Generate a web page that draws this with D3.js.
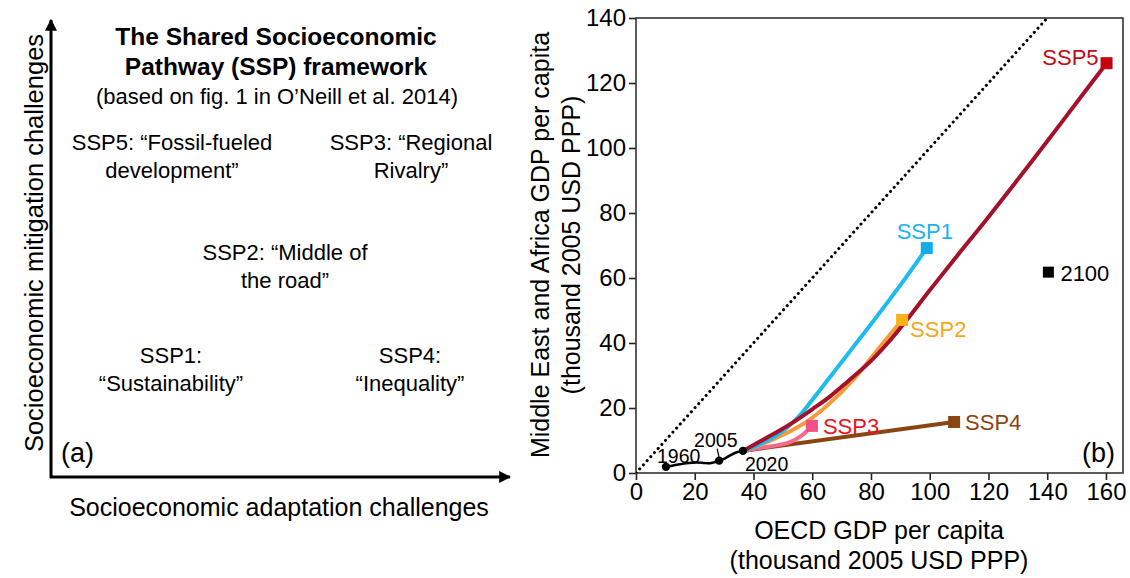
<!DOCTYPE html>
<html>
<head>
<meta charset="utf-8">
<script src="https://cdn.jsdelivr.net/npm/d3@7"></script>
<style>
  html, body { margin: 0; padding: 0; background: #fff; }
  svg { display: block; font-family: "Liberation Sans", Arial, sans-serif; }
</style>
</head>
<body>
<svg id="chart" width="1130" height="578"></svg>
<script>
// ---- Panel (b) data: [OECD GDP per capita, MEA GDP per capita] (thousand 2005 USD PPP)
const historical = [[10.2, 1.9], [13, 2.4], [15.0, 2.7], [18, 3.1], [20.7, 3.2], [23, 3.1], [25.2, 3.0], [28.3, 3.8], [30.5, 4.6], [32.0, 5.4], [34.3, 6.4], [36.4, 6.8]];
const histLabels = [{ year: "1960", x: 10.2, y: 1.9 }, { year: "2005", x: 28.3, y: 3.8 }, { year: "2020", x: 36.4, y: 6.8 }];

const ssp1 = [[36.4, 6.8], [42, 8.8], [48, 11.7], [52, 14.4], [56, 18.0], [62, 24.8], [68, 31.8], [74, 38.8], [80, 45.8], [90, 57.8], [99.0, 69.2]];
const ssp2 = [[36.4, 6.8], [43, 8.9], [49, 11.3], [55, 14.1], [60, 17.0], [66, 21.5], [74, 28.7], [82, 37.6], [90.6, 47.1]];
const ssp3 = [[36.4, 6.8], [42.0, 7.7], [48.0, 8.5], [52.4, 9.5], [56.4, 11.5], [59.9, 14.5]];
const ssp4 = [[36.4, 6.8], [108.3, 15.7]];
const ssp5 = [[36.4, 6.8], [42, 9.6], [48, 12.6], [54, 15.9], [60, 19.6], [66, 23.5], [72, 28.1], [80, 34.5], [86, 40.3], [92, 46.9], [100, 56.2], [108.6, 66.0], [120, 78.8], [134, 95.0], [146, 109.2], [160.2, 126.1]];

const scenarios = [
  { name: "SSP4", data: ssp4, line: "#8b4513", marker: "#8b4513", label: "#8b4513", pos: "right" },
  { name: "SSP3", data: ssp3, line: "#f46a8c", marker: "#f2508a", label: "#ee1122", pos: "right" },
  { name: "SSP2", data: ssp2, line: "#f99a3a", marker: "#fbb117", label: "#f7a51a", pos: "belowright" },
  { name: "SSP1", data: ssp1, line: "#1ebbee", marker: "#11aee8", label: "#18b4ea", pos: "above" },
  { name: "SSP5", data: ssp5, line: "#a3122a", marker: "#c4050f", label: "#c40a14", pos: "left" }
];

const xTicks = [0, 20, 40, 60, 80, 100, 120, 140, 160];
const yTicks = [0, 20, 40, 60, 80, 100, 120, 140];
const legendEnd = { label: "2100", x: 140.4, y: 61.8 };

// ---- Panel (a) text
const titleLines = ["The Shared Socioeconomic", "Pathway (SSP) framework"];
const subtitle = "(based on fig. 1 in O\u2019Neill et al. 2014)";
const quadrants = [
  { lines: ["SSP5: \u201cFossil-fueled", "development\u201d"], cx: 172, cy: 142 },
  { lines: ["SSP3: \u201cRegional", "Rivalry\u201d"], cx: 411, cy: 142 },
  { lines: ["SSP2: \u201cMiddle of", "the road\u201d"], cx: 285, cy: 252 },
  { lines: ["SSP1:", "\u201cSustainability\u201d"], cx: 171, cy: 355 },
  { lines: ["SSP4:", "\u201cInequality\u201d"], cx: 410, cy: 355 }
];

const svg = d3.select("#chart");

// ================= Panel (a) =================
const pa = svg.append("g");
const defs = svg.append("defs");
defs.append("marker").attr("id", "arrowhead")
  .attr("viewBox", "0 0 10 10").attr("refX", 9).attr("refY", 5)
  .attr("markerWidth", 4).attr("markerHeight", 4).attr("orient", "auto")
  .append("path").attr("d", "M0,0 L10,5 L0,10 z").attr("fill", "#000");

pa.append("line").attr("x1", 51).attr("y1", 478).attr("x2", 51).attr("y2", 20)
  .attr("stroke", "#000").attr("stroke-width", 3).attr("marker-end", "url(#arrowhead)");
pa.append("line").attr("x1", 50).attr("y1", 477).attr("x2", 510).attr("y2", 477)
  .attr("stroke", "#000").attr("stroke-width", 3).attr("marker-end", "url(#arrowhead)");

pa.selectAll("text.title").data(titleLines).join("text")
  .attr("x", 276).attr("y", (d, i) => 45 + i * 30)
  .attr("text-anchor", "middle").attr("font-size", 24.5).attr("font-weight", "bold").text(d => d);
pa.append("text").attr("x", 277).attr("y", 104).attr("text-anchor", "middle")
  .attr("font-size", 22).text(subtitle);

quadrants.forEach(q => {
  pa.selectAll(null).data(q.lines).join("text")
    .attr("x", q.cx).attr("y", (d, i) => q.cy + 8 + i * 28)
    .attr("text-anchor", "middle").attr("font-size", 22).text(d => d);
});

pa.append("text").attr("x", 61).attr("y", 462).attr("font-size", 27).text("(a)");
pa.append("text").attr("x", 279).attr("y", 516).attr("text-anchor", "middle")
  .attr("font-size", 25).text("Socioeconomic adaptation challenges");
pa.append("text").attr("transform", "translate(43,243) rotate(-90)")
  .attr("text-anchor", "middle").attr("font-size", 25.5).text("Socioeconomic mitigation challenges");

// ================= Panel (b) =================
const plot = { left: 636, right: 1123, top: 18, bottom: 473 };
const x = d3.scaleLinear().domain([0, 165.8]).range([plot.left, plot.right]);
const y = d3.scaleLinear().domain([0, 140]).range([plot.bottom, plot.top]);

const pb = svg.append("g");

pb.append("clipPath").attr("id", "plotclip").append("rect")
  .attr("x", plot.left).attr("y", plot.top)
  .attr("width", plot.right - plot.left).attr("height", plot.bottom - plot.top);

// axes
const xAxis = pb.append("g").attr("transform", `translate(0,${plot.bottom})`)
  .call(d3.axisBottom(x).tickValues(xTicks).tickSize(7).tickPadding(3));
const yAxis = pb.append("g").attr("transform", `translate(${plot.left},0)`)
  .call(d3.axisLeft(y).tickValues(yTicks).tickSize(7).tickPadding(3));
[xAxis, yAxis].forEach(a => {
  a.select(".domain").remove();
  a.selectAll(".tick line").attr("stroke", "#222").attr("stroke-width", 1.6);
  a.selectAll(".tick text").attr("font-size", 24).attr("fill", "#000")
    .attr("font-family", "\"Liberation Sans\", Arial, sans-serif");
});

pb.append("rect").attr("x", plot.left).attr("y", plot.top)
  .attr("width", plot.right - plot.left).attr("height", plot.bottom - plot.top)
  .attr("fill", "none").attr("stroke", "#333").attr("stroke-width", 1.6);

// axis titles
pb.append("text").attr("x", 879).attr("y", 539).attr("text-anchor", "middle")
  .attr("font-size", 25).text("OECD GDP per capita");
pb.append("text").attr("x", 879).attr("y", 569).attr("text-anchor", "middle")
  .attr("font-size", 25).text("(thousand 2005 USD PPP)");
pb.append("text").attr("transform", "translate(549,245) rotate(-90)")
  .attr("text-anchor", "middle").attr("font-size", 25).text("Middle East and Africa GDP per capita");
pb.append("text").attr("transform", "translate(580,245) rotate(-90)")
  .attr("text-anchor", "middle").attr("font-size", 25).text("(thousand 2005 USD PPP)");

const inner = pb.append("g").attr("clip-path", "url(#plotclip)");

// 1:1 line
inner.append("line").attr("x1", x(0)).attr("y1", y(0)).attr("x2", x(145)).attr("y2", y(145))
  .attr("stroke", "#000").attr("stroke-width", 3).attr("stroke-dasharray", "0.1,5.4")
  .attr("stroke-linecap", "round");

const line = d3.line().x(d => x(d[0])).y(d => y(d[1])).curve(d3.curveCatmullRom.alpha(0.5));

scenarios.forEach(s => {
  inner.append("path").datum(s.data).attr("d", line)
    .attr("fill", "none").attr("stroke", s.line).attr("stroke-width", 4)
    .attr("stroke-linecap", "round").attr("stroke-linejoin", "round");
});

// historical path
pb.append("path").datum(historical).attr("d", line)
  .attr("fill", "none").attr("stroke", "#000").attr("stroke-width", 2.5);
pb.selectAll("circle.hist").data(histLabels).join("circle")
  .attr("cx", d => x(d.x)).attr("cy", d => y(d.y)).attr("r", 4.2).attr("fill", "#000");

// year labels
const yl = histLabels;
pb.append("text").attr("x", x(yl[0].x) - 9).attr("y", y(yl[0].y) - 4).attr("font-size", 19.5).text(yl[0].year);
pb.append("text").attr("x", x(yl[1].x) - 25).attr("y", y(yl[1].y) - 14).attr("font-size", 19.5).text(yl[1].year);
pb.append("line").attr("x1", x(yl[1].x) - 2).attr("y1", y(yl[1].y) - 12)
  .attr("x2", x(yl[1].x)).attr("y2", y(yl[1].y) - 3).attr("stroke", "#000").attr("stroke-width", 1.2);
pb.append("text").attr("x", x(yl[2].x) + 2).attr("y", y(yl[2].y) + 20).attr("font-size", 19.5).text(yl[2].year);

// end markers and labels
scenarios.forEach(s => {
  const e = s.data[s.data.length - 1];
  const px = x(e[0]), py = y(e[1]);
  pb.append("rect").attr("x", px - 6).attr("y", py - 6).attr("width", 12).attr("height", 12)
    .attr("fill", s.marker);
  const t = pb.append("text").attr("font-size", 22).attr("fill", s.label).text(s.name);
  if (s.pos === "right") t.attr("x", px + 11).attr("y", py + 8);
  else if (s.pos === "belowright") t.attr("x", px + 8).attr("y", py + 17);
  else if (s.pos === "above") t.attr("x", px - 2).attr("y", py - 9).attr("text-anchor", "middle");
  else if (s.pos === "left") t.attr("x", px - 8).attr("y", py + 2).attr("text-anchor", "end");
});

// legend square for 2100
pb.append("rect").attr("x", x(legendEnd.x) - 5.5).attr("y", y(legendEnd.y) - 5.5)
  .attr("width", 11).attr("height", 11).attr("fill", "#000");
pb.append("text").attr("x", x(legendEnd.x) + 12).attr("y", y(legendEnd.y) + 9)
  .attr("font-size", 22).text(legendEnd.label);

pb.append("text").attr("x", 1115).attr("y", 462).attr("text-anchor", "end")
  .attr("font-size", 27).text("(b)");
</script>
</body>
</html>
